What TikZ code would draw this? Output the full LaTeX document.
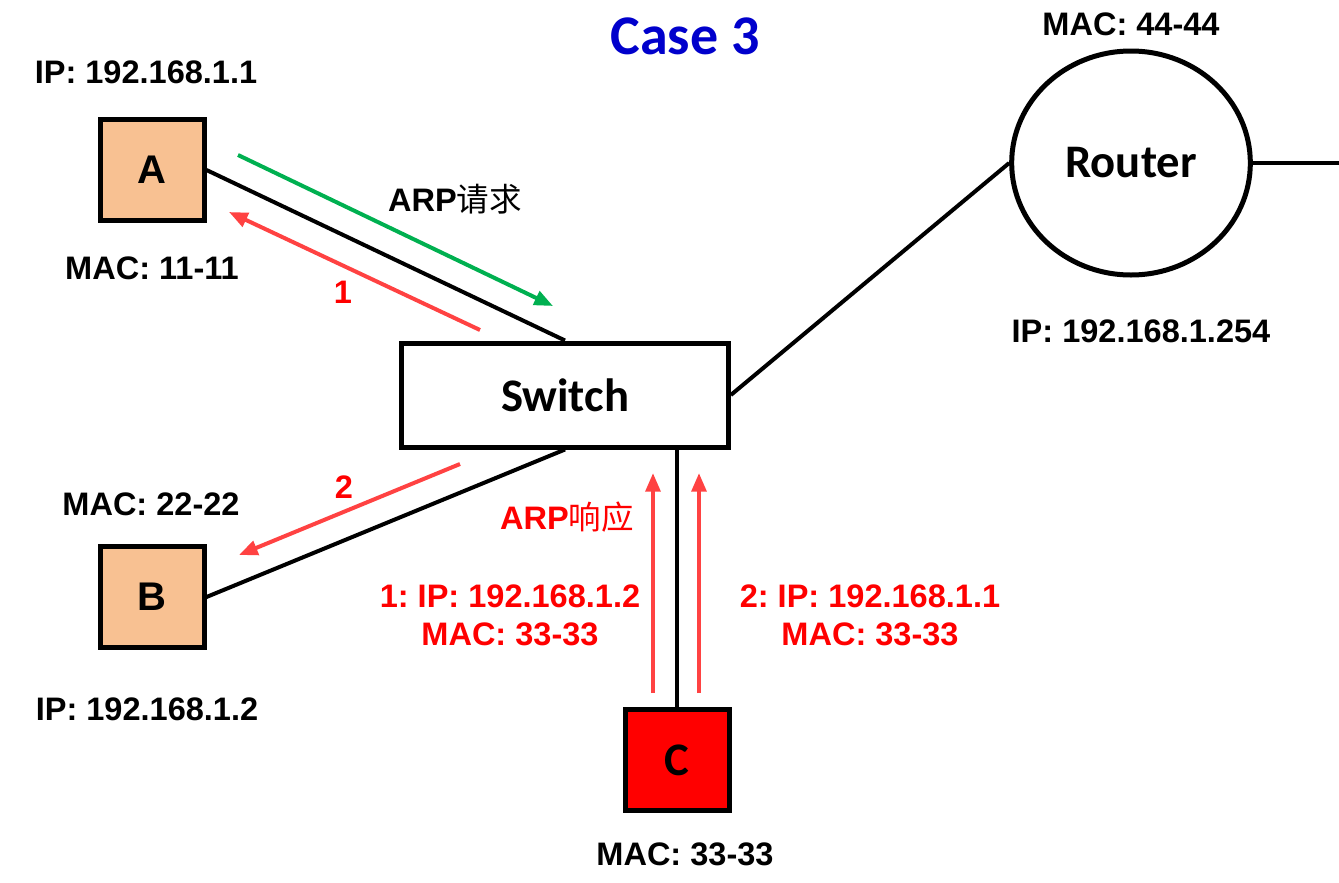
\documentclass[tikz,border=0pt]{standalone}
\usepackage{fontspec}
\setmainfont{Liberation Sans}
\newfontfamily\calib{Carlito}
\newfontfamily\cjk{Noto Sans CJK SC}
\usetikzlibrary{shapes.geometric, arrows.meta}
\definecolor{hostfill}{RGB}{248,193,146}
\definecolor{msgred}{RGB}{255,66,66}
\definecolor{reqgreen}{RGB}{0,176,80}
\definecolor{titleblue}{RGB}{0,0,204}
\frenchspacing

\begin{document}
\begin{tikzpicture}[x=0.75pt,y=0.75pt,yscale=-1,xscale=1,
  host/.style={draw, line width=3.75pt, fill=hostfill, minimum width=78pt, minimum height=76pt, inner sep=0pt, font=\fontsize{30}{30}\selectfont\bfseries},
  lbl/.style={inner sep=0.75pt, align=center, font=\fontsize{24.4}{28.5}\selectfont\bfseries},
  link/.style={line width=3pt},
  msg/.style={line width=3pt, -{Triangle[length=14pt,width=11pt]}}
]
\path[use as bounding box] (0,0) rectangle (1339,882);

% Shapes
\node [host] (hostA) at (152,170) {A};
\node [host] (hostB) at (152,597) {B};
\node [host, fill=red, font=\fontsize{35}{35}\selectfont\calib\bfseries] (hostC) at (677,760) {C};
\node [draw, line width=3.75pt, minimum width=245pt, minimum height=78pt, font=\fontsize{35}{35}\selectfont\calib\bfseries] (switch) at (565,395) {Switch};
\node [ellipse, draw, line width=3.75pt, minimum width=179pt, minimum height=168pt, font=\fontsize{35}{35}\selectfont\calib\bfseries] (router) at (1131,163) {Router};
\coordinate (rEdge) at (1339,160);

%Straight Lines
\draw [link] (hostA.east) -- (switch.north);
\draw [link] (hostB.east) -- (switch.south);
\draw [link] (switch.east) -- (router.west);
\draw [link] (router.east) -- (router.east -| rEdge);
\draw [link] (hostC.north) -- (hostC.north |- switch.south);

%Arrows
\coordinate (reqS) at (238,155);
\coordinate (reqE) at (553,306);
\coordinate (repAS) at (480,330);
\coordinate (repAE) at (229,212);
\coordinate (repBS) at (460,464);
\coordinate (repBE) at (239,555);
\coordinate (upLS) at (653,693);
\coordinate (upLE) at (653,473);
\coordinate (upRS) at (699,693);
\coordinate (upRE) at (699,473);
\draw [msg, color=reqgreen] (reqS) -- (reqE);
\draw [msg, color=msgred] (repAS) -- (repAE);
\draw [msg, color=msgred] (repBS) -- (repBE);
\draw [msg, color=msgred] (upLS) -- (upLE);
\draw [msg, color=msgred] (upRS) -- (upRE);

% Text Node
\node [font=\fontsize{42}{42}\selectfont\calib\bfseries, text=titleblue] (title) at (685,36) {Case 3};
% Text Node
\node [lbl] (ipA) at (146,72) {IP: 192.168.1.1};
\node [lbl] (macA) at (152,268) {MAC: 11-11};
\node [lbl] (macB) at (151,504) {MAC: 22-22};
\node [lbl] (ipB) at (147,709) {IP: 192.168.1.2};
\node [lbl] (macC) at (685,854) {MAC: 33-33};
\node [lbl] (macR) at (1131,24) {MAC: 44-44};
\node [lbl] (ipR) at (1141,331) {IP: 192.168.1.254};
% Text Node
\node [lbl] (req) at (455,199) {ARP{\cjk\mdseries 请求}};
\node [lbl, text=red] (rep) at (567,517) {ARP{\cjk\mdseries 响应}};
\node [lbl, text=red] (numA) at (343,292) {1};
\node [lbl, text=red] (numB) at (344,487) {2};
\node [lbl, text=red] (repL) at (510,615) {1: IP: 192.168.1.2\\MAC: 33-33};
\node [lbl, text=red] (repR) at (870,615) {2: IP: 192.168.1.1\\MAC: 33-33};

\end{tikzpicture}
\end{document}
